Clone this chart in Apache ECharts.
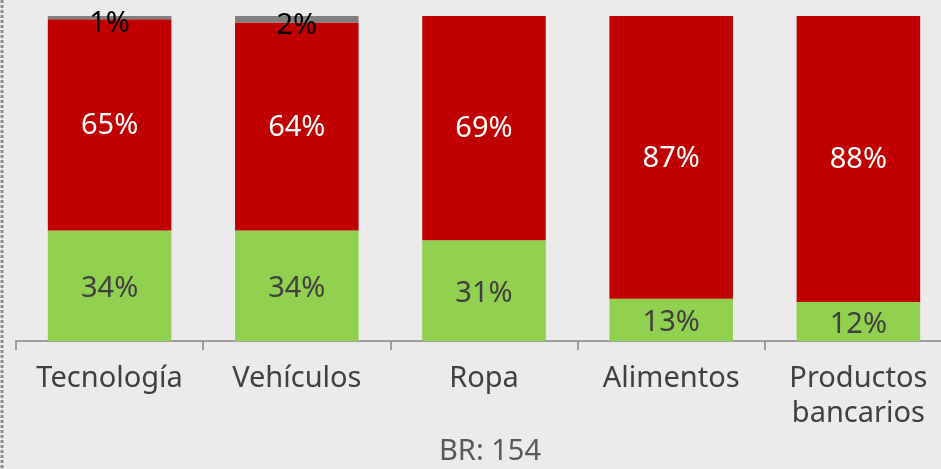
<!DOCTYPE html>
<html>
<head>
<meta charset="utf-8">
<script src="https://cdn.jsdelivr.net/npm/echarts@6/dist/echarts.min.js"></script>
<style>
  html, body { margin: 0; padding: 0; background: #ebebeb; }
  #chart { width: 941px; height: 469px; }
</style>
</head>
<body>
<div id="chart"></div>
<script>
// Categories and stacked percentage shares per category
const categories = ['Tecnología', 'Vehículos', 'Ropa', 'Alimentos', 'Productos\nbancarios'];
const greenShare = [34, 34, 31, 13, 12];
const redShare = [65, 64, 69, 87, 88];
const greyShare = [1, 2, 0, 0, 0];
const baseNote = 'BR: 154';

const FONT = 'Noto Sans';
const FS = 29;

const chart = echarts.init(document.getElementById('chart'), null, { renderer: 'canvas' });

function pctLabel(color, dy) {
  return {
    show: true,
    position: 'inside',
    offset: [0, dy],
    color: color,
    fontFamily: FONT,
    fontSize: FS,
    formatter: p => (p.value > 0 ? p.value + '%' : '')
  };
}

chart.setOption({
  backgroundColor: '#ebebeb',
  animation: false,
  // plot area runs slightly past the right edge of the canvas
  grid: {
    left: 16, width: 936, top: 16, bottom: 128,
    containLabel: false,
    outerBoundsMode: 'none'
  },
  xAxis: {
    type: 'category',
    data: categories,
    axisLine: { lineStyle: { color: '#868686', width: 1.5 } },
    axisTick: { show: true, length: 9, lineStyle: { color: '#868686', width: 1.5 } },
    axisLabel: {
      color: '#404040',
      fontFamily: FONT,
      fontSize: FS,
      lineHeight: 35,
      margin: 20,
      interval: 0
    }
  },
  yAxis: {
    type: 'value',
    min: 0,
    max: 100,
    show: false
  },
  series: [
    {
      name: 'green',
      type: 'bar',
      stack: 'total',
      data: greenShare,
      barWidth: '66%',
      itemStyle: { color: '#92d050' },
      label: pctLabel('#404040', 3)
    },
    {
      name: 'red',
      type: 'bar',
      stack: 'total',
      data: redShare,
      barWidth: '66%',
      itemStyle: { color: '#c00000' },
      label: pctLabel('#ffffff', 1)
    },
    {
      name: 'grey',
      type: 'bar',
      stack: 'total',
      data: greyShare,
      barWidth: '66%',
      itemStyle: { color: '#808080' },
      label: pctLabel('#000000', 6)
    }
  ],
  graphic: [
    {
      type: 'line',
      shape: { x1: 2, y1: 0, x2: 2, y2: 469 },
      style: { stroke: '#8c8c8c', lineWidth: 3, lineDash: [3, 2] }
    },
    {
      type: 'text',
      x: 490,
      y: 452,
      style: {
        text: baseNote,
        fill: '#595959',
        align: 'center',
        verticalAlign: 'middle',
        font: FS + 'px "' + FONT + '"'
      }
    }
  ]
});
</script>
</body>
</html>
